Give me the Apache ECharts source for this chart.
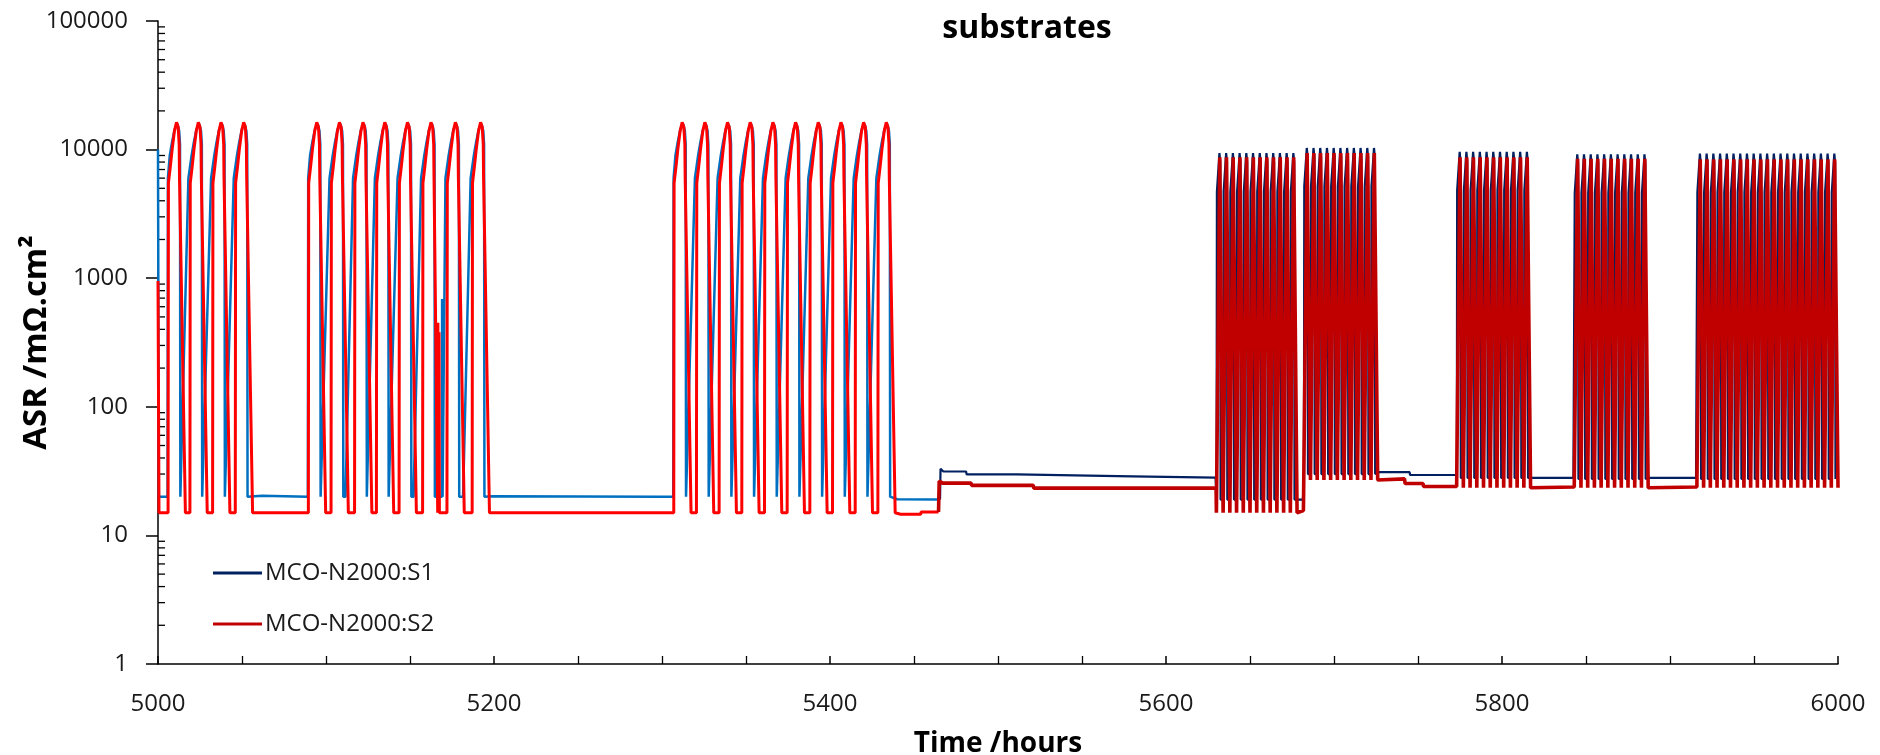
<!DOCTYPE html>
<html>
<head>
<meta charset="utf-8">
<title>ASR vs time</title>
<script src="https://cdn.jsdelivr.net/npm/echarts@6/dist/echarts.min.js"></script>
<style>
    html, body { margin: 0; padding: 0; background: #fff; }
    #chart { width: 1880px; height: 755px; }
</style>
</head>
<body>
<div id="chart"></div>
<script>
// ---- data (time in hours, ASR in mOhm.cm2) ----

// 5000-5465 h: long thermal cycles, light blue = S1, red = S2
var earlyBlock1 = [5011, 5024, 5037.5, 5051];
var earlyBlock2 = [5094.5, 5108, 5122, 5135, 5148.5, 5162.5, 5177, 5192];
var earlyBlock3 = [5312, 5325.5, 5339, 5352.5, 5366, 5379.5, 5393, 5406.5, 5420, 5433.5];
// one cycle: offset (h) from the red peak, level
var blueCycle = [[-10.4, 20], [-5.9, 6000], [-4.0, 9000], [-2.6, 11500], [-1.0, 14500], [0.6, 15800], [1.6, 14000], [2.1, 11000], [2.3, 20]];
var blueFirstCycle = [[-5.3, 20], [-5.1, 6000], [-4.0, 9000], [-2.6, 11500], [-1.0, 14500], [0.6, 15800], [1.6, 14000], [2.1, 11000], [2.3, 20]];
var redCycle = [[-5.0, 15], [-4.8, 5500], [-3.6, 7500], [-2.6, 10000], [-1.2, 14000], [0, 16300], [1.0, 15000], [1.6, 11000], [1.8, 6000], [5.3, 15]];
// flats, start/end and spikes
var blueFlat = [[5000, 10000], [5000.5, 20], [5062, 20.3], [5199, 20.2], [5169, 20], [5169.1, 690], [5169.4, 20], [5300, 20], [5440, 19.1], [5465.5, 19]];
var redFlat = [[5000, 950], [5000.6, 15], [5063, 15], [5166.5, 15], [5166.6, 450], [5166.9, 15], [5167.3, 380], [5167.5, 15], [5199, 15], [5300, 15], [5442, 14.6], [5454, 14.6], [5454.2, 15.2], [5464.6, 15.2]];

// 5465-6000 h: short cycles, navy = S1, dark red = S2
var blockA = [5632, 5636, 5640, 5644, 5648, 5652, 5656, 5660, 5664, 5668, 5672, 5676];
var blockB = [5684, 5688, 5692, 5696, 5700, 5704, 5708, 5712, 5716, 5720, 5724];
var blockC = [5775, 5779, 5783, 5787, 5791, 5795, 5799, 5803, 5807, 5811, 5815];
var blockD = [5845, 5849, 5853, 5857, 5861, 5865, 5869, 5873, 5877, 5881, 5885];
var blockE = [5918, 5922, 5926, 5930, 5934, 5938, 5942, 5946, 5950, 5954, 5958, 5962, 5966, 5970, 5974, 5978, 5982, 5986, 5990, 5994, 5998];
var navyLow = [19, 30, 28, 27.5, 27.5];
var navyHigh = [9400, 10300, 9600, 9200, 9300];
var darkRedLow = [15, 27, 23.5, 23.5, 23.5];
var darkRedHigh = [8700, 9400, 8700, 8500, 8400];
var navyFlat = [[5465.5, 19], [5465.8, 33], [5467.5, 31.4], [5481, 31.4], [5481.3, 29.8], [5511, 29.8], [5511.3, 28.8], [5580, 28.8], [5580.3, 28.1], [5629.5, 28.1],
    [5678, 19], [5681.5, 19], [5727, 31], [5745, 31], [5745.3, 29.5], [5772.5, 29.5], [5818, 28], [5842.5, 28], [5888, 28], [5915.5, 28]];
var darkRedFlat = [[5464.6, 15.2], [5465, 26.5], [5467, 25.5], [5484, 25.5], [5484.3, 24.5], [5521, 24.5], [5521.3, 23.3], [5629.8, 23.3],
    [5678, 15.6], [5681.8, 15.6], [5727, 27.5], [5742, 27.5], [5742.3, 25.3], [5753, 25.3], [5753.3, 24], [5773, 24],
    [5818, 23.8], [5843, 23.8], [5888, 23.8], [5916, 23.8]];

// minor ticks of the log axis
var minorTicks = [2, 3, 4, 5, 6, 7, 8, 9, 20, 30, 40, 50, 60, 70, 80, 90, 200, 300, 400, 500, 600, 700, 800, 900,
    2000, 3000, 4000, 5000, 6000, 7000, 8000, 9000, 20000, 30000, 40000, 50000, 60000, 70000, 80000, 90000];

function byTime(a, b) { return a[0] - b[0]; }

function early(cycle, firstCycle, flat) {
    var pts = flat.slice();
    [earlyBlock1, earlyBlock2, earlyBlock3].forEach(function (blk) {
        blk.forEach(function (tp, k) {
            var c = (k === 0) ? firstCycle : cycle;
            c.forEach(function (p) { pts.push([tp + p[0], p[1]]); });
        });
    });
    return pts.sort(byTime);
}

function late(kind, flat) {
    var pts = flat.slice();
    [blockA, blockB, blockC, blockD, blockE].forEach(function (blk, i) {
        blk.forEach(function (tp) {
            var shape;
            if (kind === 'navy') {
                shape = [[-1.9, navyLow[i]], [-1.7, navyHigh[i] * 0.5], [-0.2, navyHigh[i]], [0.3, navyHigh[i] * 0.85], [0.5, navyLow[i]]];
            } else {
                shape = [[-2.0, darkRedLow[i]], [0, darkRedHigh[i]], [2.0, darkRedLow[i]]];
            }
            shape.forEach(function (c) { pts.push([tp + c[0], c[1]]); });
        });
    });
    return pts.sort(byTime);
}

var chart = echarts.init(document.getElementById('chart'));
var font = 'Open Sans';

var option = {
    animation: false,
    backgroundColor: '#fff',
    title: {
        text: 'substrates',
        left: 1022,
        textAlign: 'center',
        top: 8,
        textStyle: { fontFamily: font, fontSize: 32, fontWeight: 'bold', color: '#000' }
    },
    legend: {
        data: ['MCO-N2000:S1', 'MCO-N2000:S2'],
        orient: 'vertical',
        left: 208,
        top: 556,
        icon: 'rect',
        itemWidth: 49,
        itemHeight: 3,
        itemGap: 27,
        textStyle: { fontFamily: font, fontSize: 24, color: '#1a1a1a', padding: [0, 0, 0, -2] }
    },
    grid: { left: 158, right: 42, top: 21, bottom: 91, containLabel: false, outerBoundsMode: 'none' },
    xAxis: {
        type: 'value',
        min: 5000,
        max: 6000,
        interval: 200,
        name: 'Time /hours',
        nameLocation: 'middle',
        nameGap: 66,
        nameMoveOverlap: false,
        nameTextStyle: { fontFamily: font, fontSize: 28, fontWeight: 'bold', color: '#000' },
        axisLine: { lineStyle: { color: '#000', width: 1.5 } },
        axisTick: { inside: true, length: 8, lineStyle: { color: '#000', width: 1.5 } },
        minorTick: { show: true, splitNumber: 4, length: 8, lineStyle: { color: '#000', width: 1.3 } },
        axisLabel: {
            fontFamily: font, fontSize: 24, color: '#1a1a1a', margin: 28,
            formatter: function (v) { return String(v); }
        },
        splitLine: { show: false }
    },
    yAxis: {
        type: 'log',
        logBase: 10,
        min: 1,
        max: 100000,
        name: 'ASR /mΩ.cm²',
        nameLocation: 'middle',
        nameGap: 105,
        nameMoveOverlap: false,
        nameTextStyle: { fontFamily: font, fontSize: 33, fontWeight: 'bold', color: '#000' },
        axisLine: { show: true, lineStyle: { color: '#000', width: 1.5 } },
        axisTick: { show: true, length: 12, lineStyle: { color: '#000', width: 1.5 } },
        axisLabel: {
            fontFamily: font, fontSize: 24, color: '#1a1a1a', margin: 30,
            formatter: function (v) { return String(Math.round(v)); }
        },
        splitLine: { show: false }
    },
    series: [
        {
            name: 'S1 early', type: 'line', showSymbol: false, color: '#0070C0',
            lineStyle: { width: 2.5 }, data: early(blueCycle, blueFirstCycle, blueFlat)
        },
        {
            name: 'S2 early', type: 'line', showSymbol: false, color: '#FF0000',
            lineStyle: { width: 3 }, data: early(redCycle, redCycle, redFlat)
        },
        {
            name: 'MCO-N2000:S1', type: 'line', showSymbol: false, color: '#002060',
            lineStyle: { width: 2.2 }, data: late('navy', navyFlat)
        },
        {
            name: 'MCO-N2000:S2', type: 'line', showSymbol: false, color: '#C00000',
            lineStyle: { width: 3.6 }, data: late('red', darkRedFlat)
        },
        {
            name: 'minor ticks', type: 'custom', silent: true,
            data: minorTicks.map(function (v) { return [5000, v]; }),
            renderItem: function (params, api) {
                var p = api.coord([api.value(0), api.value(1)]);
                return {
                    type: 'line',
                    shape: { x1: p[0], y1: p[1], x2: p[0] + 7, y2: p[1] },
                    style: { stroke: '#000', lineWidth: 1.3 }
                };
            }
        }
    ]
};

chart.setOption(option);
</script>
</body>
</html>
